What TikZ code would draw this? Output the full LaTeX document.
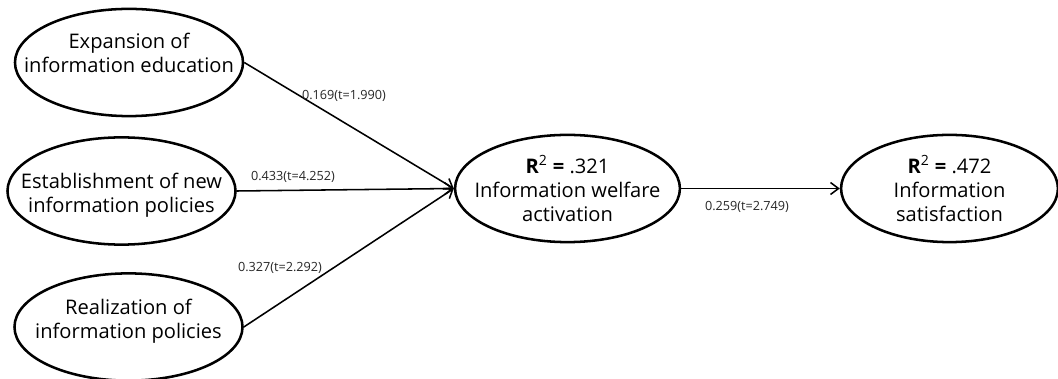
\documentclass[tikz,border=0pt]{standalone}
\usepackage{fontspec}
\setmainfont{Open Sans}
\usetikzlibrary{arrows.meta, shapes.geometric}
\tikzset{
  every picture/.style={x=0.025cm, y=-0.025cm},
  construct/.style={draw, ellipse, line width=1.8pt, inner xsep=-1.3cm, inner ysep=0pt,
    align=center, minimum width=#1, minimum height=2.68cm, font=\fontsize{14.3}{17}\selectfont},
  construct/.default=5.7cm,
  lift/.style={text height=#1, text depth=3.4pt},
  arrow/.style={-{Straight Barb[length=2mm, width=3mm]}, line width=1.1pt},
  coef/.style={font=\fontsize{9}{10}\selectfont, inner sep=0pt, text=black!85},
}
\begin{document}
\begin{tikzpicture}
  \useasboundingbox (0,0) rectangle (1058,379);
  % exogenous constructs
  \node[construct, lift=17.8pt] (expand) at (129,62.5) {Expansion of\\information education};
  \node[construct, lift=33.5pt] (establish) at (121.5,191) {Establishment of new\\information policies};
  \node[construct, lift=19.3pt] (realize) at (128.5,327) {Realization of\\information policies};
  % endogenous constructs
  \node[construct=5.62cm] (welfare) at (567.5,188.5) {\textbf{R}\textsuperscript{2} \textbf{=} .321\\Information welfare\\activation};
  \node[construct=5.42cm] (satisfy) at (949.5,188.5) {\textbf{R}\textsuperscript{2} \textbf{=} .472\\Information\\satisfaction};
  % paths
  \draw[arrow] (expand.east) -- (welfare.west);
  \draw[arrow] (establish.east) -- (welfare.west);
  \draw[arrow] (realize.east) -- (welfare.west);
  \draw[arrow] (welfare.east) -- (satisfy.west);
  % path coefficients
  \node[coef] (c1) at (344,96) {0.169(t=1.990)};
  \node[coef] (c2) at (293,177) {0.433(t=4.252)};
  \node[coef] (c3) at (280,268) {0.327(t=2.292)};
  \node[coef] (c4) at (747,207) {0.259(t=2.749)};
\end{tikzpicture}
\end{document}
